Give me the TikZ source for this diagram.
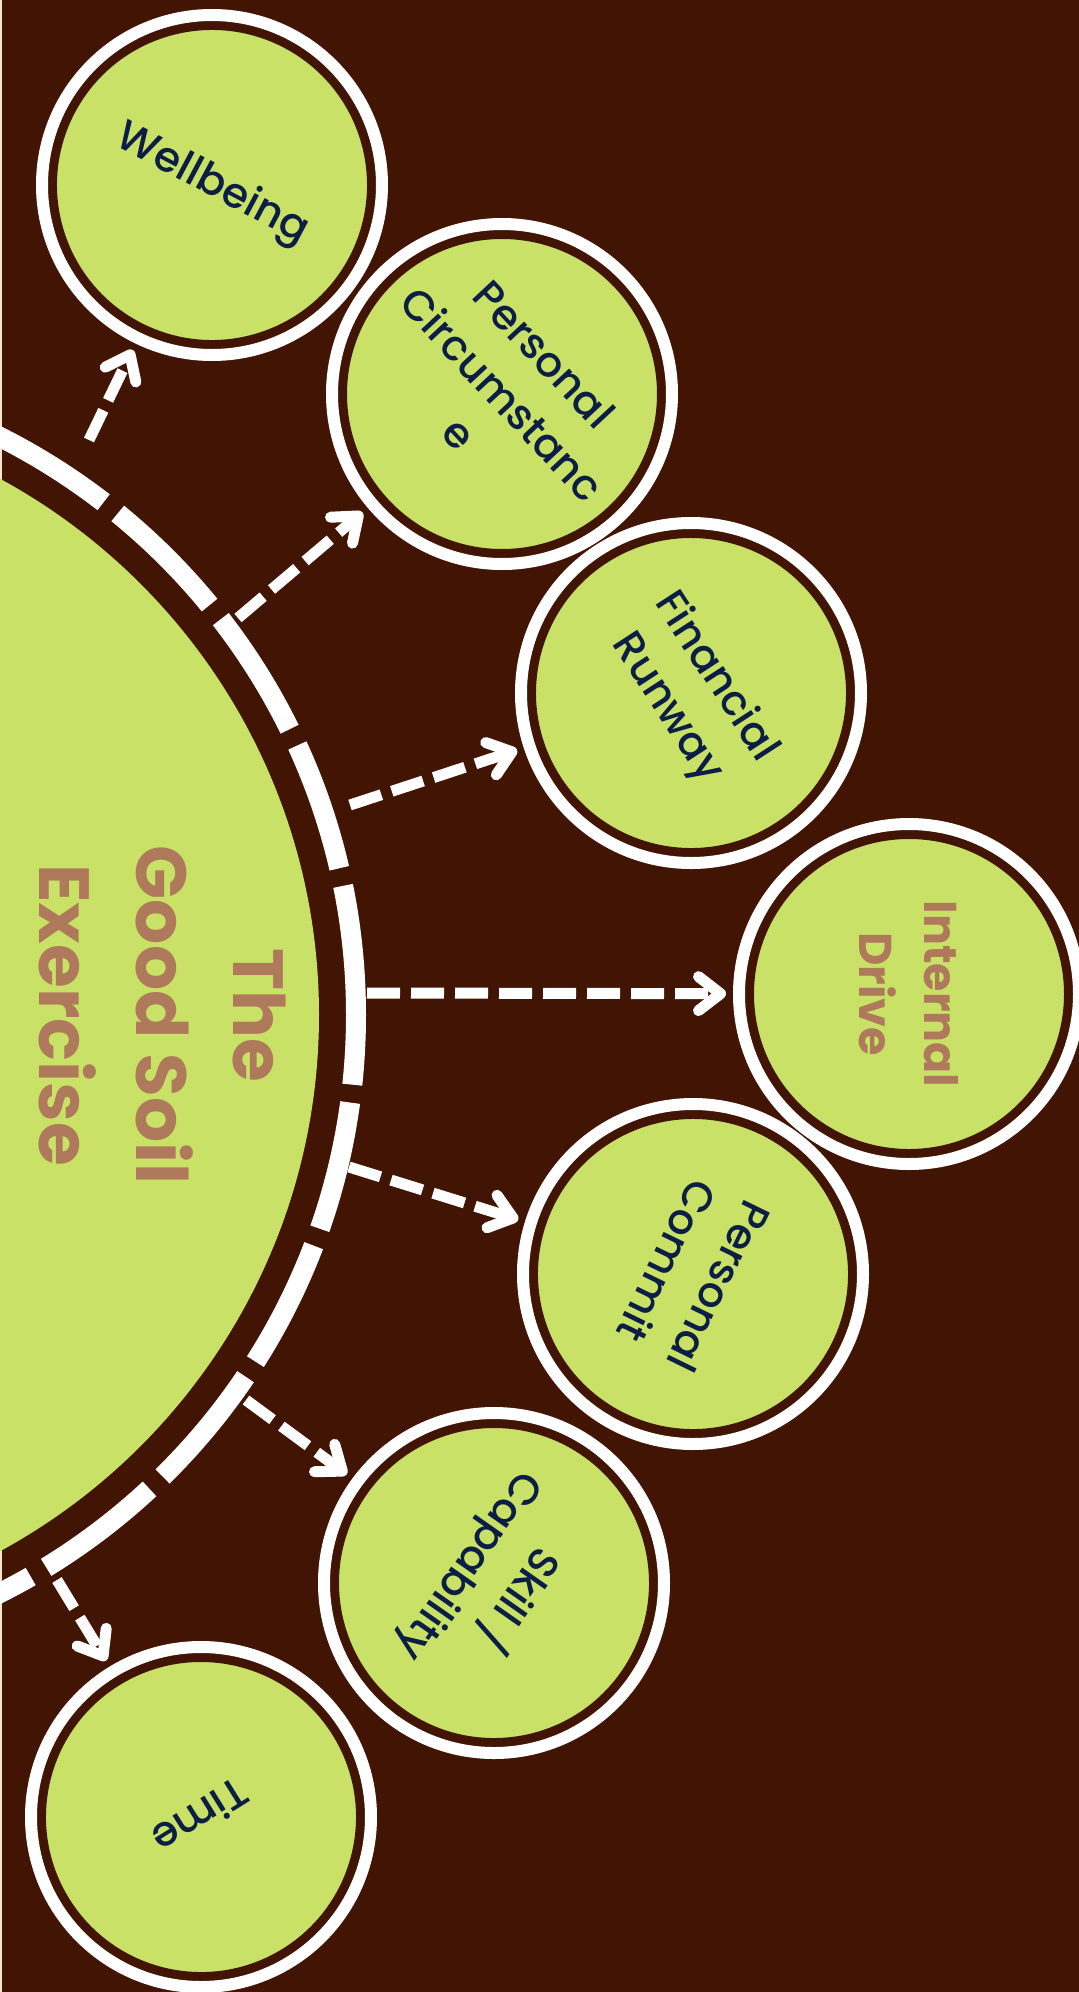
\documentclass[tikz,border=0pt]{standalone}
\usepackage{fontspec}
\setmainfont{Poppins}[UprightFont=* Medium, BoldFont=* Bold]
\usetikzlibrary{arrows.meta}
\definecolor{soilbrown}{HTML}{421404}
\definecolor{leafgreen}{HTML}{C8E166}
\definecolor{inknavy}{HTML}{0C1E45}
\definecolor{claytan}{HTML}{AF7A5B}
\definecolor{edgesand}{HTML}{F3E3CF}
\tikzset{
	factor/.style={circle, fill=leafgreen, draw=soilbrown, line width=18pt, minimum size=328pt, inner sep=0pt, text=inknavy, align=center, font=\fontsize{42}{58}\selectfont},
	rim/.style={draw=white, line width=12pt},
	flow/.style={white, line width=11pt, dash pattern=on 33pt off 11pt, -{Straight Barb[length=22pt, width=34pt, round]}, shorten >=10pt},
}
\begin{document}
\begin{tikzpicture}[x=1pt, y=-1pt]
	\fill[edgesand] (0,0) rectangle (1079,1992);
	\fill[soilbrown] (2,0) rectangle (1079,1992);
	\clip (0,0) rectangle (1079,1992);
	% the big circle and its dashed ring
	\node[circle, fill=leafgreen, minimum size=1220pt, inner sep=0pt] (exercise) at (-291,1015) {};
	\draw[white, line width=20pt, dash pattern=on 130pt off 18pt] (exercise.center) circle[radius=647pt];
	\node[rotate=-90, text=claytan, align=center, font=\fontsize{71}{97}\selectfont\bfseries] (title) at (162,1015) {The\\Good Soil\\Exercise};
	% the seven factors
	\node[factor, rotate=-28] (wellbeing) at (212,185) {Wellbeing};
	\node[factor, rotate=-47] (circumstance) at (502,394) {Personal\\Circumstanc\\e};
	\node[factor, rotate=-57] (runway) at (691,693) {Financial\\Runway};
	\node[factor, rotate=-90, text=claytan, font=\fontsize{46}{65}\selectfont\bfseries] (drive) at (909,994) {Internal\\Drive};
	\node[factor, rotate=-116] (commit) at (693,1274) {Personal\\Commit};
	\node[factor, rotate=-125] (skill) at (494,1583) {Skill /\\Capability};
	\node[factor, rotate=-148] (time) at (201,1817) {Time};
	\foreach \n in {wellbeing,circumstance,runway,drive,commit,skill,time}
		\draw[rim] (\n.center) circle[radius=170pt];
	% arrows out of the ring
	\coordinate (r1) at (89,440);
	\coordinate (r2) at (238,618);
	\coordinate (r3) at (350,805);
	\coordinate (r4) at (367,993);
	\coordinate (r5) at (349,1167);
	\coordinate (r6) at (246,1400);
	\coordinate (r7) at (57,1580);
	\draw[flow] (r1) -- (wellbeing);
	\draw[flow] (r2) -- (circumstance);
	\draw[flow] (r3) -- (runway);
	\draw[flow] (r4) -- (drive);
	\draw[flow] (r5) -- (commit);
	\draw[flow] (r6) -- (skill);
	\draw[flow] (r7) -- (time);
\end{tikzpicture}
\end{document}
